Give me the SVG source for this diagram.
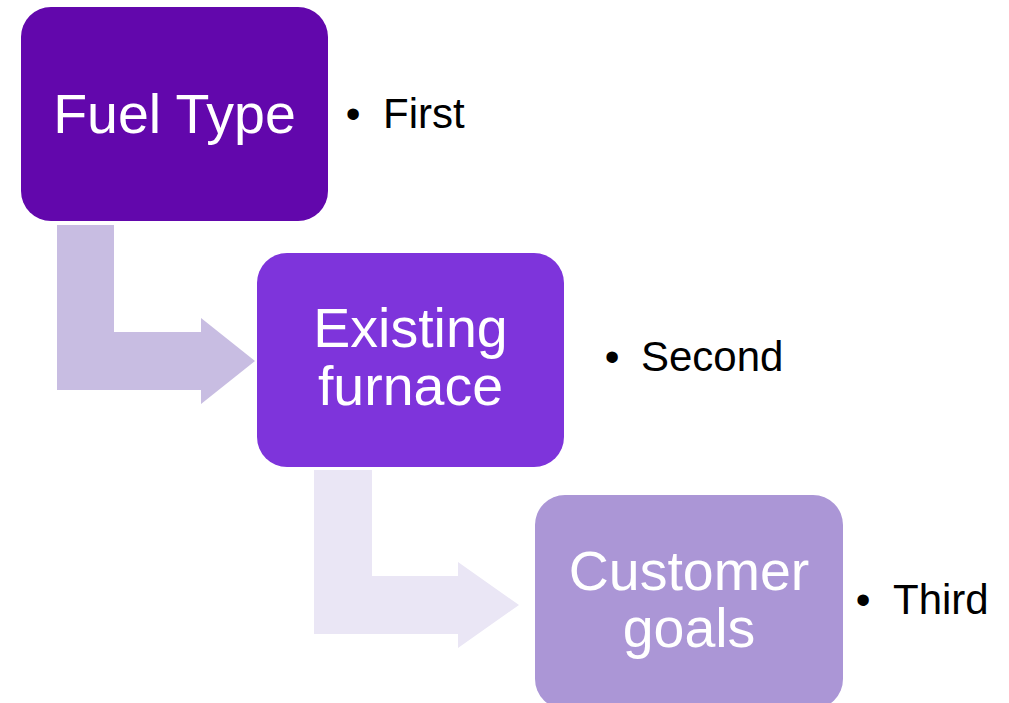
<svg xmlns="http://www.w3.org/2000/svg" width="1009" height="703" viewBox="0 0 1009 703">
<style>
.node{font-family:"Liberation Sans",Arial,sans-serif;font-size:55.5px;fill:#ffffff;text-anchor:middle}
.bul{font-family:"Liberation Sans",Arial,sans-serif;font-size:42px;fill:#000000}
</style>
<rect width="1009" height="703" fill="#ffffff"/>
<g id="connectors">
<path d="M57,225 H114 V332 H201 V318 L255,361 L201,404 V390 H57 Z" fill="#C8BDE2"/>
<path d="M314,470 H372 V576 H458 V562 L519,605 L458,648 V634 H314 Z" fill="#EAE6F5"/>
</g>
<g id="node-fuel">
<rect x="21" y="7" width="307" height="214" rx="30" fill="#6207AC"/>
<text class="node" x="174.5" y="133">Fuel Type</text>
</g>
<g id="node-existing">
<rect x="257" y="253" width="307" height="214" rx="30" fill="#7E34DB"/>
<text class="node" x="410.5" y="347">Existing</text>
<text class="node" x="410.5" y="405">furnace</text>
</g>
<g id="node-customer">
<rect x="535" y="495" width="308" height="214" rx="30" fill="#AB96D6"/>
<text class="node" x="689" y="590">Customer</text>
<text class="node" x="689" y="647">goals</text>
</g>
<g id="bullet-first">
<text class="bul" x="353" y="128" text-anchor="middle">•</text>
<text class="bul" x="383" y="128">First</text>
</g>
<g id="bullet-second">
<text class="bul" x="612" y="371" text-anchor="middle">•</text>
<text class="bul" x="641" y="371">Second</text>
</g>
<g id="bullet-third">
<text class="bul" x="863" y="614" text-anchor="middle">•</text>
<text class="bul" x="893" y="614">Third</text>
</g>
</svg>
